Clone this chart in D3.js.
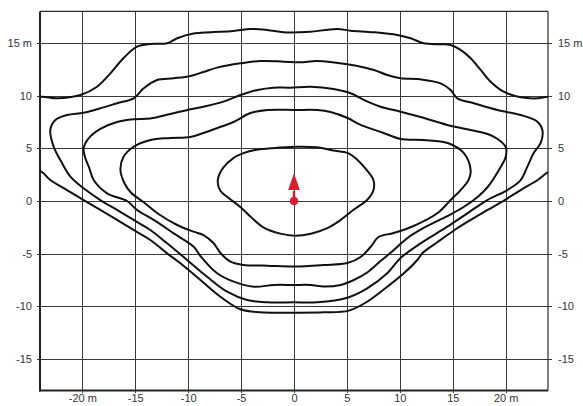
<!DOCTYPE html>
<html><head><meta charset="utf-8">
<script src="https://cdn.jsdelivr.net/npm/d3@7"></script>
<style>
html,body{margin:0;padding:0;background:#fff;}
text{font-family:"Liberation Sans",Arial,sans-serif;font-size:11px;fill:#333;}
</style></head>
<body>
<svg id="chart" width="583" height="406"></svg>
<script>
const xTicks = [-20,-15,-10,-5,0,5,10,15,20];
const yTicks = [-15,-10,-5,0,5,10,15];
const xDomain = [-24,24];
const yDomain = [-18,18];

const contourA = [[0.14,5.15],[2.2,5.1],[3.7,4.8],[5.1,4.55],[6.0,3.9],[6.9,2.9],[7.5,2.0],[7.5,1.0],[6.9,0.1],[5.6,-0.85],[4.4,-1.8],[3.2,-2.55],[1.6,-3.1],[0.1,-3.3],[-1.3,-3.1],[-2.9,-2.5],[-4.1,-1.5],[-5.1,-0.55],[-6.2,0.3],[-7.0,1.05],[-7.2,2.0],[-6.7,3.15],[-5.7,4.1],[-4.9,4.5],[-3.7,4.85],[-2.2,5.0]];

const contourB = [[0.05,8.64],[2.22,8.64],[3.45,8.45],[5.06,7.88],[6.29,7.22],[8.46,6.46],[10.07,5.89],[12.25,5.79],[14.52,5.51],[16.03,4.56],[16.69,2.94],[16.5,2.0],[15.75,1.04],[14.8,0.09],[13.57,-1.14],[11.3,-2.37],[9.41,-3.04],[7.99,-3.42],[7.23,-4.37],[6.29,-5.32],[5.06,-5.89],[2.79,-6.08],[0.05,-6.22],[-2.5,-6.14],[-4.78,-6.08],[-6.0,-5.76],[-6.95,-4.94],[-7.61,-3.99],[-8.56,-3.23],[-9.5,-2.91],[-11.04,-2.28],[-12.94,-1.14],[-14.23,-0.09],[-15.37,0.76],[-16.03,1.71],[-16.4,2.94],[-16.12,4.18],[-15.18,5.13],[-13.57,5.79],[-11.68,5.98],[-9.79,6.08],[-8.56,6.46],[-7.23,6.93],[-5.72,7.5],[-4.11,8.35],[-2.5,8.64]];

const contourC = [[-19.88,5.0],[-19.4,5.95],[-18.3,6.84],[-16.72,7.5],[-15.15,7.76],[-13.57,7.83],[-11.68,8.26],[-10.07,8.64],[-8.56,8.95],[-6.67,9.43],[-5.06,10.06],[-3.45,10.54],[-1.94,10.76],[-0.33,10.76],[1.56,10.85],[3.74,10.63],[5.34,10.23],[6.95,9.43],[8.18,8.95],[10.07,8.48],[11.96,7.97],[14.49,7.22],[16.69,6.74],[18.3,6.36],[19.24,5.89],[20.0,5.13],[20.0,4.18],[19.53,3.23],[18.96,2.28],[18.3,1.33],[17.35,0.38],[16.03,-0.57],[14.52,-1.42],[12.25,-2.56],[10.73,-3.51],[9.44,-4.65],[8.18,-5.7],[6.92,-6.79],[5.65,-7.5],[4.4,-7.97],[2.82,-8.12],[1.56,-7.97],[-0.02,-7.97],[-1.91,-7.97],[-3.8,-8.14],[-5.69,-7.66],[-7.26,-6.86],[-8.84,-5.22],[-9.48,-4.34],[-11.37,-3.07],[-13.26,-1.8],[-14.83,-0.85],[-15.77,0.0],[-17.66,0.73],[-18.93,1.99],[-19.34,3.13],[-19.72,4.08]];

const contourD = [[-23.03,6.74],[-22.55,7.69],[-21.45,8.16],[-19.88,8.38],[-18.3,8.8],[-16.72,9.28],[-15.15,9.75],[-14.2,10.7],[-12.94,11.49],[-11.37,11.65],[-9.79,11.87],[-8.56,12.25],[-7.26,12.66],[-5.06,13.07],[-3.17,13.29],[-0.96,13.23],[0.61,13.17],[2.19,13.29],[5.03,12.98],[7.55,12.44],[8.81,11.96],[10.07,11.65],[11.96,11.55],[13.85,11.17],[14.8,10.54],[15.43,9.75],[17.0,9.28],[19.22,8.64],[21.42,8.16],[23.0,7.53],[23.47,6.74],[23.31,5.51],[22.65,4.56],[22.05,3.26],[21.42,1.99],[20.16,1.04],[18.27,0.09],[16.38,-1.17],[14.49,-2.44],[11.96,-4.02],[10.07,-5.41],[8.81,-6.86],[6.92,-8.29],[5.03,-9.18],[2.19,-9.62],[-0.02,-9.62],[-2.53,-9.62],[-4.43,-9.4],[-6.32,-8.61],[-8.21,-7.19],[-10.1,-5.6],[-11.99,-4.02],[-13.57,-2.75],[-15.15,-1.8],[-16.72,-0.85],[-18.3,0.09],[-19.88,1.21],[-21.13,2.31],[-22.08,3.89],[-22.71,5.16]];

const contourE = [[-23.88,9.9],[-22.39,9.75],[-20.19,10.06],[-18.61,10.85],[-17.35,12.12],[-16.12,13.55],[-14.83,14.65],[-13.57,14.91],[-11.99,14.97],[-11.04,15.45],[-9.5,15.9],[-7.9,16.02],[-5.72,16.14],[-4.11,16.33],[-2.53,16.23],[-0.99,16.02],[0.61,16.02],[1.56,16.07],[4.09,16.33],[5.34,16.17],[7.52,16.02],[9.76,15.76],[11.02,15.45],[12.25,14.97],[13.85,14.88],[14.8,14.81],[15.74,14.34],[16.69,13.55],[17.64,12.44],[18.58,11.33],[19.81,10.38],[21.42,9.85],[23.03,9.75],[24.07,9.9],[25.5,9.6],[26,6.5],[25.5,3.2],[24.07,2.78],[23.03,1.99],[21.42,1.04],[19.91,0.09],[18.3,-0.85],[16.69,-1.8],[15.18,-2.75],[13.57,-3.89],[12.15,-4.94],[11.65,-5.6],[10.38,-6.86],[8.81,-8.14],[6.92,-9.56],[5.18,-10.41],[2.82,-10.57],[-0.02,-10.6],[-3.17,-10.57],[-5.06,-10.28],[-6.95,-9.09],[-8.84,-7.5],[-10.73,-5.91],[-11.99,-4.97],[-13.57,-3.7],[-15.15,-2.75],[-16.72,-1.8],[-18.3,-0.85],[-19.88,0.09],[-21.45,1.04],[-23.03,1.99],[-23.88,2.78],[-25.5,3.2],[-26,6.5],[-25.5,9.6]];

const contours = [contourA, contourB, contourC, contourD, contourE];

const markerPos = [0,0];
const arrowTipY = 2.65;
const arrowBaseY = 1.05;
const arrowHalfW = 0.55;

const svg = d3.select("#chart");
const L = 40, R = 548, T = 11.4, B = 390.6;
const x = d3.scaleLinear().domain(xDomain).range([L, R]);
const y = d3.scaleLinear().domain(yDomain).range([B, T]);

// grid + left axis
const gLeft = svg.append("g").attr("transform", `translate(${L},0)`)
  .call(d3.axisLeft(y).tickValues(yTicks).tickSize(-(R - L) - 3).tickPadding(8)
    .tickFormat(d => d === 15 ? "15 m" : String(d)));
gLeft.select(".domain").remove();
gLeft.selectAll(".tick line").attr("x1", -3).attr("stroke", "#3a3a3a").attr("stroke-width", 1).attr("shape-rendering","crispEdges");
gLeft.selectAll(".tick text").attr("x", -8).attr("fill", "#333").style("font-size","11px").attr("font-family", null);

const gRight = svg.append("g").attr("transform", `translate(${R},0)`)
  .call(d3.axisRight(y).tickValues(yTicks).tickSize(4).tickPadding(6)
    .tickFormat(d => d === 15 ? "15 m" : String(d)));
gRight.select(".domain").remove();
gRight.selectAll(".tick line").attr("stroke", "#3a3a3a").attr("shape-rendering","crispEdges");
gRight.selectAll(".tick text").attr("fill", "#333").style("font-size","11px").attr("font-family", null);

const gBottom = svg.append("g").attr("transform", `translate(0,${B})`)
  .call(d3.axisBottom(x).tickValues(xTicks).tickSize(-(B - T)).tickPadding(5)
    .tickFormat(d => (d === -20 || d === 20) ? d + " m" : String(d)));
gBottom.select(".domain").remove();
gBottom.selectAll(".tick line").attr("y1", 2).attr("stroke", "#3a3a3a").attr("stroke-width", 1).attr("shape-rendering","crispEdges");
gBottom.selectAll(".tick text").attr("y", 4).attr("fill", "#333").style("font-size","11px").attr("font-family", null);

// frame
svg.append("line").attr("x1", L).attr("x2", R).attr("y1", T).attr("y2", T).attr("stroke", "#2a2a2a").attr("stroke-width", 1.2);
svg.append("line").attr("x1", R).attr("x2", R).attr("y1", T).attr("y2", B).attr("stroke", "#2a2a2a").attr("stroke-width", 1.2);
svg.append("line").attr("x1", L).attr("x2", L).attr("y1", T).attr("y2", B+1).attr("stroke", "#222").attr("stroke-width", 2);
svg.append("line").attr("x1", L-1).attr("x2", R).attr("y1", B).attr("y2", B).attr("stroke", "#222").attr("stroke-width", 2);

// clip
svg.append("clipPath").attr("id", "plotClip").append("rect")
  .attr("x", L).attr("y", T).attr("width", R - L).attr("height", B - T);

const line = d3.line().x(d => x(d[0])).y(d => y(d[1])).curve(d3.curveCatmullRomClosed.alpha(0.5));

svg.append("g").attr("clip-path", "url(#plotClip)")
  .selectAll("path").data(contours).join("path")
  .attr("d", line).attr("fill", "none").attr("stroke", "#111").attr("stroke-width", 2)
  .attr("stroke-linejoin", "round");

// marker
const red = "#d42030";
const mx = x(markerPos[0]), my = y(markerPos[1]);
svg.append("line").attr("x1", mx).attr("x2", mx).attr("y1", my).attr("y2", y(arrowBaseY) + 1)
  .attr("stroke", red).attr("stroke-width", 2.5);
svg.append("path")
  .attr("d", `M${x(markerPos[0])},${y(arrowTipY)} L${x(markerPos[0] + arrowHalfW)},${y(arrowBaseY)} L${x(markerPos[0] - arrowHalfW)},${y(arrowBaseY)} Z`)
  .attr("fill", red);
svg.append("circle").attr("cx", mx).attr("cy", my).attr("r", 4.3).attr("fill", red);
</script>
</body></html>
